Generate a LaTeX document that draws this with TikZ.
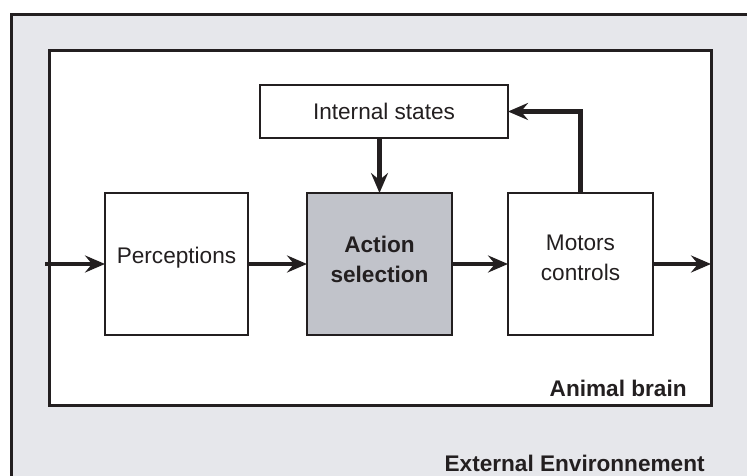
\documentclass[tikz,border=0pt]{standalone}
\usepackage{fontspec}
\setmainfont{Liberation Sans}
\usetikzlibrary{arrows.meta,calc}
\definecolor{envgray}{HTML}{E6E7EB}
\definecolor{actgray}{HTML}{C1C3CA}
\definecolor{ink}{HTML}{231F20}
\tikzset{
	box/.style={draw=ink, line width=1pt, fill=white, outer sep=0pt, inner sep=0pt},
	arr/.style={draw=ink, line width=2.2pt, -{Stealth[length=10pt, width=8.5pt, inset=3.5pt]}},
	txt/.style={font=\fontsize{11.3}{15}\selectfont, text=ink, align=center},
	bold/.style={font=\fontsize{11.3}{15}\selectfont\bfseries}
}
\begin{document}
\begin{tikzpicture}[x=0.5pt, y=-0.5pt, txt]
		%%%%% START %%%%%
		\useasboundingbox (0, 0) rectangle (747, 475);
		\clip (0, 0) rectangle (747, 475);
		\fill[white] (0, 0) rectangle (747, 475);
		
		% external environment
		\draw[draw=ink, fill=envgray, line width=1.5pt] (11, 15) rectangle (780, 520);
		\node[anchor=east, inner sep=0pt, bold] (envlabel) at (705, 463) {External Environnement};
		
		% animal brain
		\node[box, line width=1.5pt, minimum width=331pt, minimum height=177pt] (brain) at (380, 228) {};
		\node[anchor=east, inner sep=0pt, bold] (brainlabel) at (687, 388) {Animal brain};
		
		% boxes
		\node[box, minimum width=124pt, minimum height=26.5pt] (int) at (384, 111.5) {Internal states};
		\node[box, minimum width=71.5pt, minimum height=71pt] (perc) at (176.5, 264) {};
		\node[box, fill=actgray, minimum width=72.5pt, minimum height=71pt] (act) at (379.5, 264) {};
		\node[box, minimum width=72.5pt, minimum height=71pt] (mot) at (580.5, 264) {};
		
		\node (perclabel) at ($(perc)+(0,-6)$) {Perceptions};
		\node[bold] (actlabel) at ($(act)+(0,-5)$) {Action\\selection};
		\node (motlabel) at ($(mot)+(0,-6)$) {Motors\\controls};
		
		% flows
		\draw[arr] ($(brain.west |- perc.west)+(-4,0)$) -- (perc.west);
		\draw[arr] (perc.east) -- (act.west);
		\draw[arr] (act.east) -- (mot.west);
		\draw[arr] (mot.east) -- (brain.east |- mot.east);
		\draw[arr] (int.south -| act.north) -- (act.north);
		\draw[arr] (mot.north) |- (int.east);
		
		%%%%% END %%%%%
	\end{tikzpicture}
\end{document}
